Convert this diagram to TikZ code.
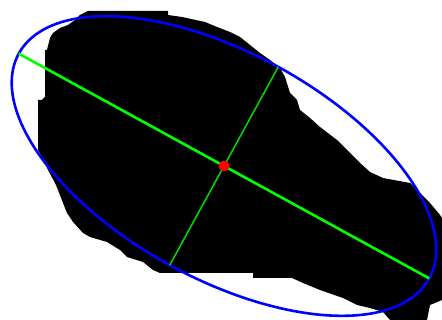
\documentclass[tikz,border=0pt]{standalone}
\begin{document}
\begin{tikzpicture}[x=1pt,y=-1pt,
  blob/.style={fill=black},
  ell/.style={draw={rgb,255:red,0;green,0;blue,255},line width=2.6pt},
  majoraxis/.style={draw={rgb,255:red,0;green,255;blue,0},line width=2.6pt},
  minoraxis/.style={draw={rgb,255:red,0;green,220;blue,0},line width=1.5pt},
  centerdot/.style={fill={rgb,255:red,255;green,0;blue,0}}]
\useasboundingbox (0,0) rectangle (442,320);
\fill[white] (0,0) rectangle (442,320);
% blob
\fill[blob] (88,11) -- (168,11) -- (168,15) -- (182,17) -- (205,22) -- (217,27) -- (230,32) -- (240,37)
 -- (250,45) -- (260,53) -- (270,60) -- (280,68) -- (285,77) -- (290,93) -- (297,100) -- (300,110)
 -- (310,118) -- (320,127) -- (337,140) -- (350,153) -- (360,163) -- (370,172) -- (383,178) -- (410,183)
 -- (420,193) -- (430,203) -- (440,215) -- (442,218) -- (442,300) -- (430,305) -- (427,320) -- (390,320)
 -- (383,312) -- (370,308) -- (357,305) -- (343,298) -- (320,290) -- (303,283) -- (292,278) -- (253,278)
 -- (253,273) -- (160,273) -- (153,270) -- (143,262) -- (127,257) -- (120,250) -- (107,242) -- (90,237)
 -- (83,233) -- (73,222) -- (67,213) -- (63,203) -- (58,190) -- (55,183) -- (48,170) -- (42,157)
 -- (38,150) -- (38,100) -- (42,100) -- (45,97) -- (45,50) -- (47,50) -- (50,38) -- (53,33) -- (60,28)
 -- (68,25) -- (75,20) -- (80,15) -- cycle;
% ellipse
\draw[ell] plot[domain=0:360,samples=181,smooth]
  ({224+234*cos(\x)*cos(28.7)-113*sin(\x)*sin(28.7)},{166+234*cos(\x)*sin(28.7)+113*sin(\x)*cos(28.7)}) -- cycle;
\coordinate (c) at (224,166);
\coordinate (m1) at ({224-234*cos(28.7)},{166-234*sin(28.7)});
\coordinate (m2) at ({224+234*cos(28.7)},{166+234*sin(28.7)});
\coordinate (n1) at ({224+113*sin(28.7)},{166-113*cos(28.7)});
\coordinate (n2) at ({224-113*sin(28.7)},{166+113*cos(28.7)});
\draw[majoraxis] (m1) -- (m2);
\draw[minoraxis] (n1) -- (n2);
\fill[centerdot] (c) circle (5.5);
\end{tikzpicture}
\end{document}
